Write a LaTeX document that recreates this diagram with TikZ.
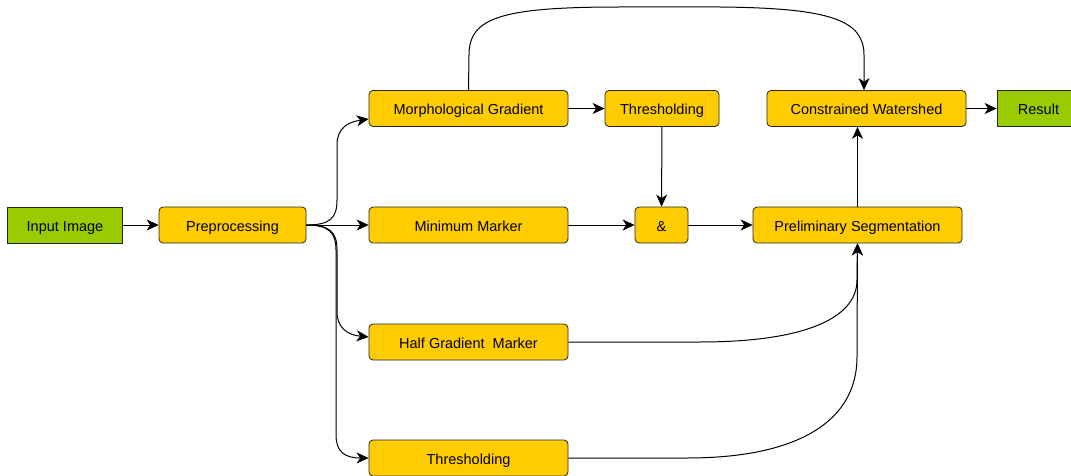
\documentclass[tikz,border=0pt]{standalone}
\usepackage{fontspec}
\setmainfont{Liberation Sans}
\usepackage{xcolor}
\usetikzlibrary{arrows.meta}
\definecolor{boxyellow}{HTML}{FFCC00}
\definecolor{iogreen}{HTML}{99CC00}

\begin{document}
\begin{tikzpicture}[x=1pt,y=-1pt,
  every node/.style={font=\fontsize{14.5}{17}\selectfont,text height=13pt,text depth=1pt},
  box/.style={draw=black!85,line width=0.8pt,rounded corners=4pt,fill=boxyellow,minimum height=36pt,inner sep=0pt},
  io/.style={draw=black!85,line width=0.8pt,fill=iogreen,minimum height=36pt,inner sep=0pt},
  link/.style={line width=1pt,-{Stealth[length=12pt,width=11pt,inset=3.5pt]}}]
 \useasboundingbox (0,0) rectangle (1071,476);
 \node[io,minimum width=115pt] (in) at (65,225) {Input Image};
 \node[box,minimum width=147pt] (pre) at (232.5,225) {Preprocessing};
 \node[box,minimum width=199pt] (morph) at (468.5,108.5) {Morphological Gradient};
 \node[box,minimum width=114pt] (thr1) at (662,108.5) {Thresholding};
 \node[box,minimum width=199pt] (cw) at (866.5,108.5) {Constrained Watershed};
 \node[io,minimum width=83pt] (res) at (1038.5,108.5) {Result};
 \node[box,minimum width=199pt] (minm) at (468.5,225) {Minimum Marker};
 \node[box,minimum width=53pt] (and) at (661.5,225) {\&};
 \node[box,minimum width=209pt] (prel) at (857.5,225) {Preliminary Segmentation};
 \node[box,minimum width=199pt] (half) at (468.5,342) {Half Gradient\ \ Marker};
 \node[box,minimum width=199pt] (thr2) at (468.5,458) {Thresholding};
 % straight links
 \foreach \a/\b in {in/pre,pre/minm,morph/thr1,minm/and,and/prel,thr1/and,cw/res}
   \draw[link] (\a) -- (\b);
 \draw[link] (prel.north) -- (prel.north |- cw.south);
 % branches out of preprocessing
 \draw[link] (pre.east) .. controls (330,225) and (337,218) .. (337,200) -- (337,145)
   .. controls (337,128) and (348,122) .. ([yshift=-10.5pt]morph.west);
 \draw[link] (pre.east) .. controls (330,225) and (337,232) .. (337,250) -- (337,312)
   .. controls (337,328) and (348,335) .. ([yshift=5pt]half.west);
 \draw[link] (pre.east) .. controls (328,225) and (336,232) .. (336,250) -- (336,435)
   .. controls (336,452) and (345,458) .. (thr2.west);
 % gradient to watershed
 \draw[link] (morph.north) -- (469,55) .. controls (469,18) and (500,7) .. (620,7) -- (720,7)
   .. controls (830,8) and (864,20) .. (864,55) -- ([xshift=-2.5pt]cw.north);
 % markers to preliminary segmentation
 \draw[link] (half.east) -- (700,342) .. controls (800,342) and (857,320) .. (857,280) -- (prel.south);
 \draw[link] (thr2.east) -- (687,458) .. controls (800,458) and (857,420) .. (857,357) -- (prel.south);
\end{tikzpicture}
\end{document}
